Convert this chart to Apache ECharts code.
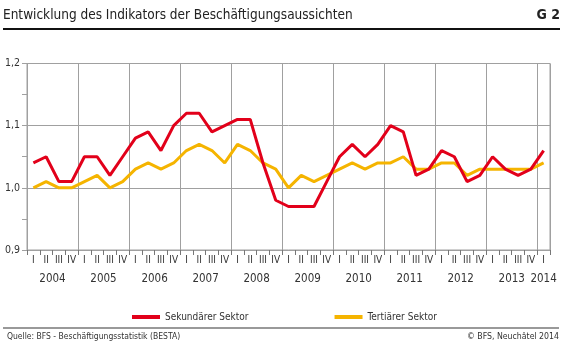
<!DOCTYPE html>
<html><head><meta charset="utf-8">
<script src="https://cdn.jsdelivr.net/npm/echarts@6/dist/echarts.min.js"></script>
<style>html,body{margin:0;padding:0;background:#fff}#c{width:580px;height:349px}</style>
</head><body><div id="c"></div>
<script>
var years = ['2004','2005','2006','2007','2008','2009','2010','2011','2012','2013','2014'];
var quarterNames = ['I','II','III','IV'];
var sekundaer = [1.04,1.05,1.01,1.01, 1.05,1.05,1.02,1.05, 1.08,1.09,1.06,1.10, 1.12,1.12,1.09,1.10,
                 1.11,1.11,1.04,0.98, 0.97,0.97,0.97,1.01, 1.05,1.07,1.05,1.07, 1.10,1.09,1.02,1.03,
                 1.06,1.05,1.01,1.02, 1.05,1.03,1.02,1.03, 1.06];
var tertiaer = [1.00,1.01,1.00,1.00, 1.01,1.02,1.00,1.01, 1.03,1.04,1.03,1.04, 1.06,1.07,1.06,1.04,
                1.07,1.06,1.04,1.03, 1.00,1.02,1.01,1.02, 1.03,1.04,1.03,1.04, 1.04,1.05,1.03,1.03,
                1.04,1.04,1.02,1.03, 1.03,1.03,1.03,1.03, 1.04];
var yTicks = ['0,9','1,0','1,1','1,2'];

var cats = [];
for (var i = 0; i < sekundaer.length; i++) cats.push(years[Math.floor(i/4)] + ' ' + quarterNames[i%4]);

var FONT = '"Liberation Sans Narrow", "DejaVu Sans Condensed", Arial, sans-serif';
var TXT = '#333';
var GRID = '#a0a0a0';
var chart = echarts.init(document.getElementById('c'), null, {renderer:'canvas'});
chart.setOption({
  animation:false,
  textStyle:{fontFamily:FONT},
  grid:{left:27, right:30, top:63.5, bottom:99, show:true, borderColor:GRID, borderWidth:1},
  xAxis:[{
    type:'category', data:cats, boundaryGap:true,
    axisLine:{show:true, lineStyle:{color:GRID, width:1}},
    axisTick:{show:true, interval:0, length:5, lineStyle:{color:'#777'}},
    axisLabel:{interval:0, margin:5, fontSize:10, color:TXT, fontFamily:FONT,
      formatter:function(v){return v.split(' ')[1];}},
    splitLine:{show:true, interval:function(idx){return idx%4===0;}, lineStyle:{color:GRID, width:1}}
  },{
    type:'category', data:cats, boundaryGap:true, position:'bottom', offset:0,
    axisLine:{show:false}, axisTick:{show:false}, splitLine:{show:false},
    axisLabel:{margin:23, fontSize:11.5, color:TXT, fontFamily:FONT,
      interval:function(idx){return idx%4===1 || idx===cats.length-1;},
      formatter:function(v){var y=v.split(' ')[0]; return v.split(' ')[1]==='II' ? '{s|'+y+'}' : '{n|'+y+'}';},
      rich:{s:{padding:[0,0,0,12.75], fontSize:11.5, fontFamily:FONT, color:TXT}, n:{fontSize:11.5, fontFamily:FONT, color:TXT}}}
  }],
  yAxis:{
    type:'value', min:0.9, max:1.2, interval:0.1,
    axisLine:{show:true, lineStyle:{color:GRID}},
    axisTick:{show:true, length:5, lineStyle:{color:GRID}},
    minorTick:{show:true, splitNumber:2, length:5, lineStyle:{color:GRID}},
    minorSplitLine:{show:false},
    splitLine:{show:true, lineStyle:{color:GRID, width:1}},
    axisLabel:{margin:7, fontSize:10.5, color:TXT, fontFamily:FONT,
      formatter:function(v){var k=Math.round((v-0.9)*10); return yTicks[k]!==undefined?yTicks[k]:'';}}
  },
  legend:{
    top:307, left:127, itemGap:86, itemWidth:28, itemHeight:4, icon:'rect',
    textStyle:{fontSize:10, color:TXT, fontFamily:FONT},
    data:['Sekundärer Sektor','Tertiärer Sektor']
  },
  series:[
    {name:'Sekundärer Sektor', type:'line', data:sekundaer, symbol:'none', z:3,
      lineStyle:{color:'#e2001a', width:3}, itemStyle:{color:'#e2001a'}},
    {name:'Tertiärer Sektor', type:'line', data:tertiaer, symbol:'none', z:2,
      lineStyle:{color:'#f5b400', width:3}, itemStyle:{color:'#f5b400'}}
  ],
  graphic:[
    {type:'text', left:3, top:8, style:{text:'Entwicklung des Indikators der Beschäftigungsaussichten', font:'13.5px '+FONT, fill:'#222'}},
    {type:'text', right:20, top:8, style:{text:'G 2', font:'bold 14px '+FONT, fill:'#222'}},
    {type:'line', shape:{x1:3, y1:29, x2:560, y2:29}, style:{stroke:'#111', lineWidth:2}},
    {type:'line', shape:{x1:3, y1:328, x2:559, y2:328}, style:{stroke:'#777', lineWidth:1.5}},
    {type:'text', left:7, top:332, style:{text:'Quelle: BFS - Beschäftigungsstatistik (BESTA)', font:'8.5px '+FONT, fill:'#333'}},
    {type:'text', right:21, top:332, style:{text:'© BFS, Neuchâtel 2014', font:'8.7px '+FONT, fill:'#333'}}
  ]
});
</script></body></html>
